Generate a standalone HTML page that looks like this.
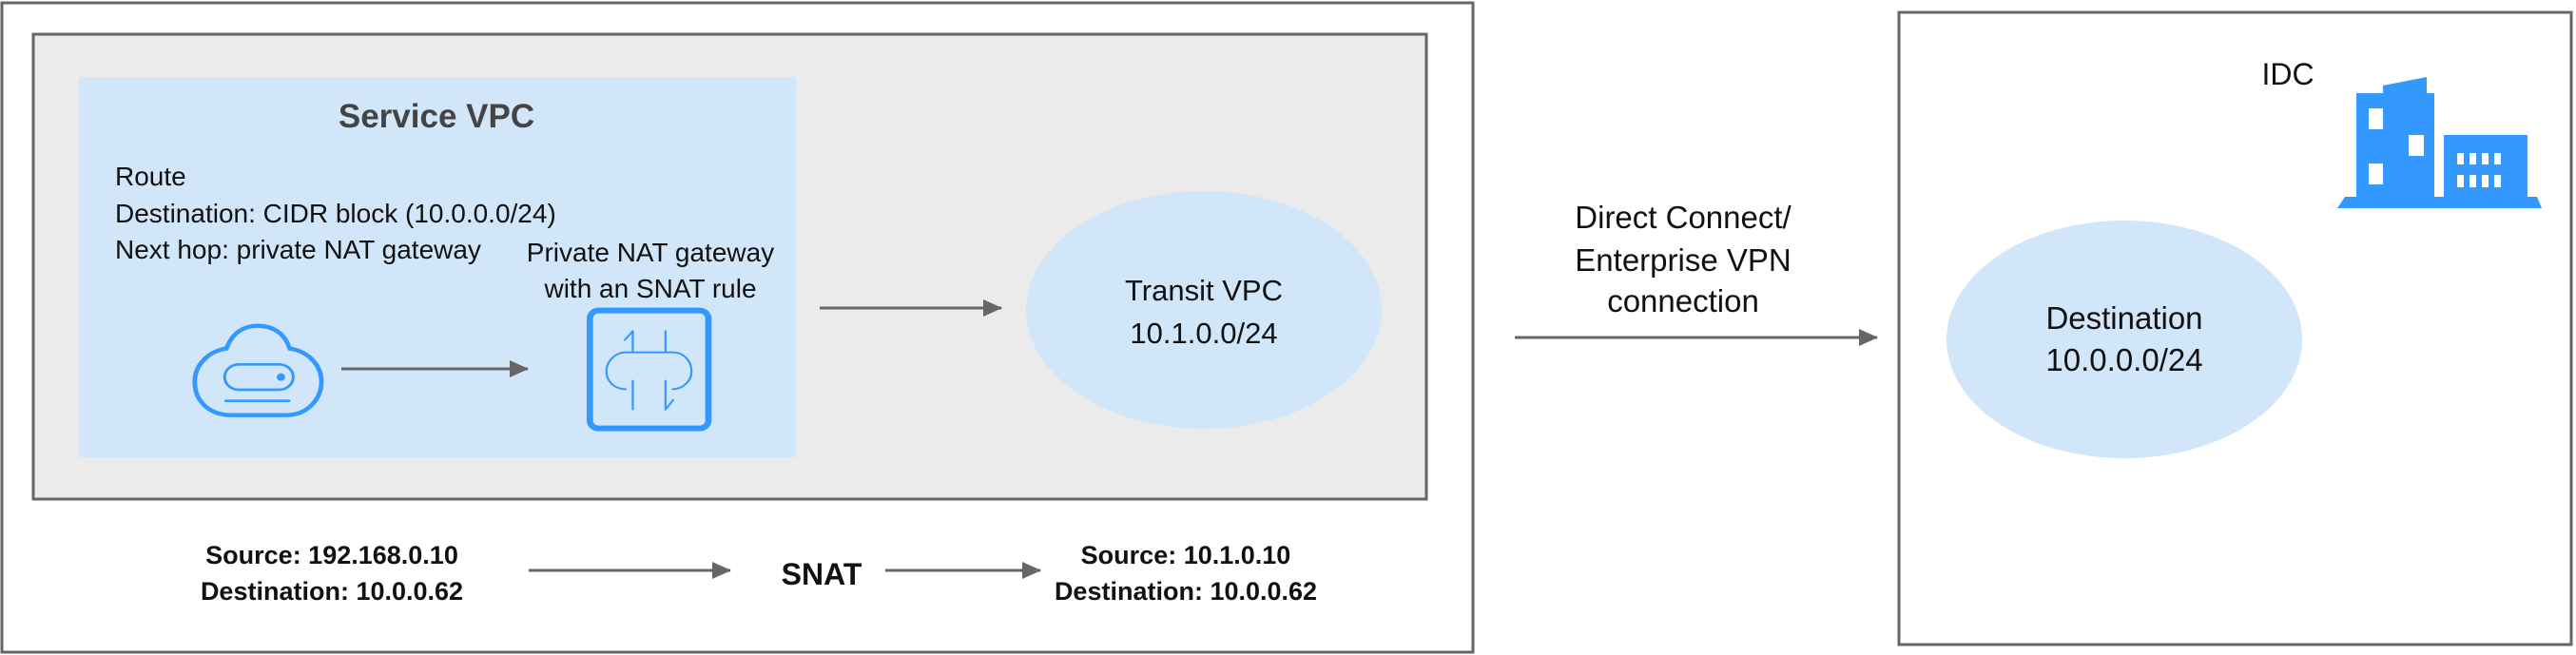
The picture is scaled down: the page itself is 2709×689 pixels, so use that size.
<!DOCTYPE html>
<html><head><meta charset="utf-8"><style>
html,body{margin:0;padding:0;background:#fff}
svg{display:block}
text{font-family:"Liberation Sans",sans-serif;fill:#111}
</style></head><body>
<svg width="2709" height="689" viewBox="0 0 2709 689" xmlns="http://www.w3.org/2000/svg">
<defs>
<marker id="a" viewBox="0 0 20 20" markerWidth="20" markerHeight="20" refX="19" refY="10" orient="auto" markerUnits="userSpaceOnUse"><path d="M0,1 L20,10 L0,19 Z" fill="#666"/></marker></defs>
<rect x="2" y="3" width="1547" height="683" fill="#fff" stroke="#666" stroke-width="3"/>
<rect x="35" y="36" width="1465" height="489" fill="#ebebeb" stroke="#666" stroke-width="3"/>
<rect x="83" y="81" width="754" height="400" fill="#d1e6f8"/>
<text x="459" y="134" font-size="35" text-anchor="middle" font-weight="bold" style="fill:#444">Service VPC</text>
<text x="121" y="195" font-size="28">Route</text>
<text x="121" y="234" font-size="28">Destination: CIDR block (10.0.0.0/24)</text>
<text x="121" y="272" font-size="28">Next hop: private NAT gateway</text>
<text x="684" y="275" font-size="28" text-anchor="middle">Private NAT gateway</text>
<text x="684" y="313" font-size="28" text-anchor="middle">with an SNAT rule</text>
<g transform="translate(190,320) scale(0.37,0.3333)" fill="none" stroke="#3399ff">
<path d="M130,140 C150,80 190,68 220,68 C260,68 295,90 310,140 C360,148 400,190 400,245 C400,300 360,350 300,350 L145,350 C85,350 40,310 40,245 C40,190 80,148 130,140 Z" stroke-width="13"/>
<rect x="125" y="190" width="195" height="80" rx="40" stroke-width="8"/>
<circle cx="285" cy="230" r="12" fill="#3399ff" stroke="none"/>
<line x1="128" y1="305" x2="308" y2="305" stroke-width="8" stroke-linecap="round"/>
<rect x="1163" y="20" width="337" height="372" rx="25" stroke-width="18"/>
<g stroke-width="6" stroke-linecap="round">
<line x1="1285" y1="85" x2="1285" y2="152"/><line x1="1378" y1="85" x2="1378" y2="152"/>
<path d="M1265,268 C1230,268 1210,240 1210,212 C1210,180 1235,152 1265,152 L1400,152 C1430,152 1452,180 1452,212 C1452,240 1430,268 1398,268"/>
<line x1="1285" y1="242" x2="1285" y2="332"/><line x1="1378" y1="242" x2="1378" y2="332"/>
<line x1="1262" y1="113" x2="1285" y2="85"/><line x1="1378" y1="332" x2="1400" y2="302"/>
</g></g>
<line x1="359" y1="388" x2="555" y2="388" stroke="#666" stroke-width="3" marker-end="url(#a)"/>
<line x1="862" y1="324" x2="1053" y2="324" stroke="#666" stroke-width="3" marker-end="url(#a)"/>
<ellipse cx="1266" cy="326" rx="187" ry="125" fill="#d1e6f8"/>
<text x="1266" y="316" font-size="31" text-anchor="middle">Transit VPC</text>
<text x="1266" y="361" font-size="31" text-anchor="middle">10.1.0.0/24</text>
<text x="349" y="593" font-size="27" font-weight="bold" text-anchor="middle">Source: 192.168.0.10</text>
<text x="349" y="631" font-size="27" font-weight="bold" text-anchor="middle">Destination: 10.0.0.62</text>
<line x1="556" y1="600" x2="768" y2="600" stroke="#666" stroke-width="3" marker-end="url(#a)"/>
<text x="864" y="615" font-size="32" font-weight="bold" text-anchor="middle">SNAT</text>
<line x1="931" y1="600" x2="1094" y2="600" stroke="#666" stroke-width="3" marker-end="url(#a)"/>
<text x="1247" y="593" font-size="27" font-weight="bold" text-anchor="middle">Source: 10.1.0.10</text>
<text x="1247" y="631" font-size="27" font-weight="bold" text-anchor="middle">Destination: 10.0.0.62</text>
<text x="1770" y="240" font-size="33" text-anchor="middle">Direct Connect/</text>
<text x="1770" y="285" font-size="33" text-anchor="middle">Enterprise VPN</text>
<text x="1770" y="328" font-size="33" text-anchor="middle">connection</text>
<line x1="1593" y1="355" x2="1974" y2="355" stroke="#666" stroke-width="3" marker-end="url(#a)"/>
<rect x="1997" y="13" width="707" height="665" fill="#fff" stroke="#666" stroke-width="3"/>
<text x="2406" y="89" font-size="32" text-anchor="middle">IDC</text>
<g fill="#3399ff">
<polygon points="2478,98 2506,98 2506,90 2552,81 2552,98 2560,98 2560,207 2478,207"/>
<rect x="2570" y="142" width="88" height="65"/>
<polygon points="2466,207 2668,207 2673,219 2458,219"/>
</g>
<g fill="#fff">
<rect x="2491" y="114" width="15" height="22"/><rect x="2533" y="142" width="16" height="22"/><rect x="2491" y="172" width="15" height="22"/>
<rect x="2584" y="161" width="7" height="12"/><rect x="2597" y="161" width="7" height="12"/><rect x="2610" y="161" width="7" height="12"/><rect x="2623" y="161" width="7" height="12"/>
<rect x="2584" y="184" width="7" height="13"/><rect x="2597" y="184" width="7" height="13"/><rect x="2610" y="184" width="7" height="13"/><rect x="2623" y="184" width="7" height="13"/>
</g>
<ellipse cx="2234" cy="357" rx="187" ry="125" fill="#d1e6f8"/>
<text x="2234" y="346" font-size="33" text-anchor="middle">Destination</text>
<text x="2234" y="390" font-size="33" text-anchor="middle">10.0.0.0/24</text>
</svg>
</body></html>
